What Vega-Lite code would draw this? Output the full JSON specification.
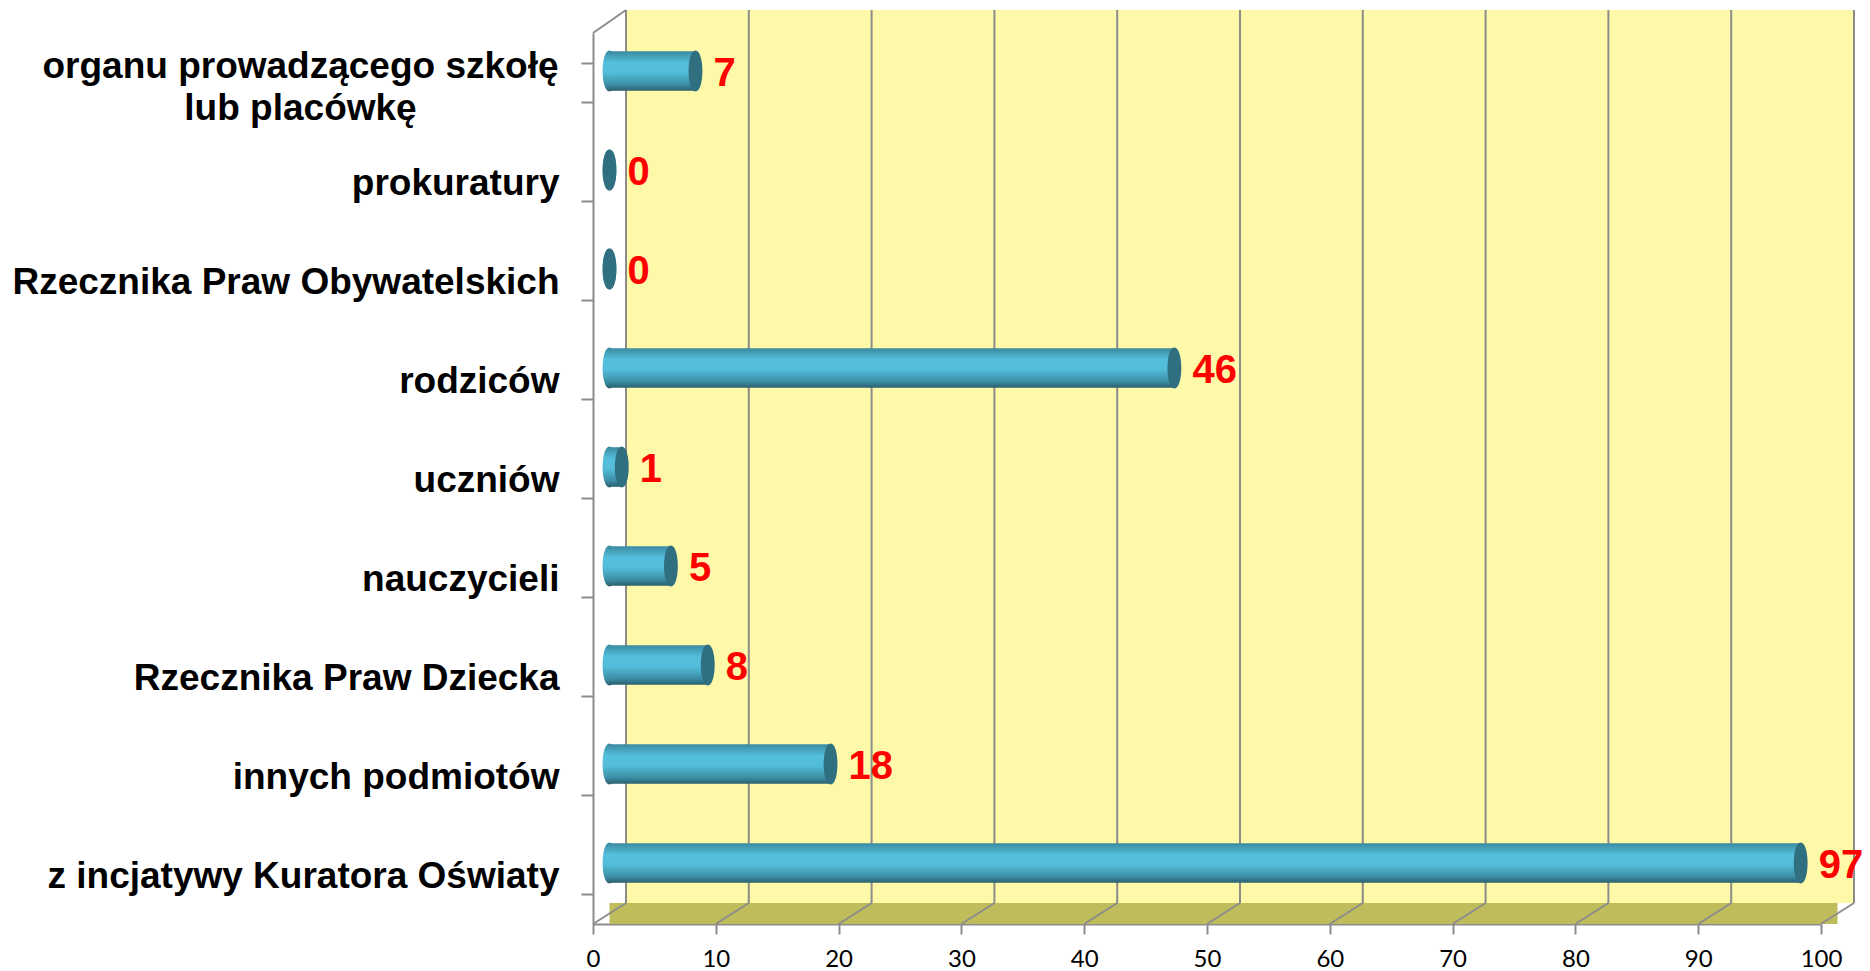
{
  "$schema": "https://vega.github.io/schema/vega-lite/v6.json",
  "width": 1228,
  "height": 891,
  "autosize": {"type": "none"},
  "padding": {"left": 593, "top": 33, "right": 49, "bottom": 47},
  "background": "white",
  "config": {"view": {"stroke": null}},
  "datasets": {
    "rows": [
      {"kategoria": "organu prowadzącego szkołę lub placówkę", "liczba": 7},
      {"kategoria": "prokuratury", "liczba": 0},
      {"kategoria": "Rzecznika Praw Obywatelskich", "liczba": 0},
      {"kategoria": "rodziców", "liczba": 46},
      {"kategoria": "uczniów", "liczba": 1},
      {"kategoria": "nauczycieli", "liczba": 5},
      {"kategoria": "Rzecznika Praw Dziecka", "liczba": 8},
      {"kategoria": "innych podmiotów", "liczba": 18},
      {"kategoria": "z incjatywy Kuratora Oświaty", "liczba": 97}
    ],
    "ticks": [
      {"t": 0}, {"t": 10}, {"t": 20}, {"t": 30}, {"t": 40}, {"t": 50},
      {"t": 60}, {"t": 70}, {"t": 80}, {"t": 90}, {"t": 100}
    ]
  },
  "data": {"name": "rows"},
  "layer": [
    {
      "data": {"values": [{}]},
      "mark": {"type": "rect", "fill": "#fdf9a8", "xOffset": 33, "x2Offset": 33, "yOffset": -23, "y2Offset": -21},
      "encoding": {
        "x": {"datum": 0, "type": "quantitative"},
        "x2": {"datum": 100},
        "y": {"value": 0},
        "y2": {"value": "height"}
      }
    },
    {
      "data": {"values": [{}]},
      "mark": {"type": "rect", "fill": "#bfbd5b", "xOffset": 16.5, "x2Offset": 16.5, "yOffset": 0, "y2Offset": -21},
      "encoding": {
        "x": {"datum": 0, "type": "quantitative"},
        "x2": {"datum": 100},
        "y": {"value": "height"},
        "y2": {"value": "height"}
      }
    },
    {
      "data": {"name": "ticks"},
      "mark": {"type": "rule", "stroke": "#8c8c8c", "strokeWidth": 2, "xOffset": 33, "yOffset": -23, "y2Offset": -21},
      "encoding": {
        "x": {"field": "t", "type": "quantitative"},
        "y": {"value": 0},
        "y2": {"value": "height"}
      }
    },
    {
      "data": {"name": "ticks"},
      "mark": {"type": "rule", "stroke": "#8c8c8c", "strokeWidth": 2, "x2Offset": 33, "y2Offset": -21},
      "encoding": {
        "x": {"field": "t", "type": "quantitative"},
        "x2": {"field": "t"},
        "y": {"value": "height"},
        "y2": {"value": "height"}
      }
    },
    {
      "data": {"values": [{}]},
      "mark": {"type": "rule", "stroke": "#8c8c8c", "strokeWidth": 2, "x2Offset": 33, "y2Offset": -23},
      "encoding": {
        "x": {"datum": 0, "type": "quantitative"},
        "x2": {"datum": 0},
        "y": {"value": 0},
        "y2": {"value": 0}
      }
    },
    {
      "mark": {
        "type": "point",
        "shape": "M0,-1 C0.45,-1 0.45,1 0,1 C-0.45,1 -0.45,-1 0,-1 Z",
        "size": 1681,
        "filled": true,
        "opacity": 1,
        "strokeWidth": 0,
        "fill": {"gradient": "linear", "x1": 0, "y1": 0, "x2": 0, "y2": 1, "stops": [
          {"offset": 0, "color": "#3a8aa0"}, {"offset": 0.3, "color": "#55c0dd"},
          {"offset": 0.55, "color": "#52bcd9"}, {"offset": 0.85, "color": "#3b8ca2"},
          {"offset": 1, "color": "#2a5f6e"}]},
        "xOffset": 16.5,
        "yOffset": -11.5
      },
      "encoding": {
        "x": {"datum": 0, "type": "quantitative"},
        "y": {"field": "kategoria", "type": "nominal", "sort": null}
      }
    },
    {
      "mark": {
        "type": "bar",
        "fill": {"gradient": "linear", "x1": 0, "y1": 0, "x2": 0, "y2": 1, "stops": [
          {"offset": 0, "color": "#3a8aa0"}, {"offset": 0.3, "color": "#55c0dd"},
          {"offset": 0.55, "color": "#52bcd9"}, {"offset": 0.85, "color": "#3b8ca2"},
          {"offset": 1, "color": "#2a5f6e"}]},
        "xOffset": 16.5,
        "x2Offset": 16.5,
        "yOffset": -11.5,
        "y2Offset": -11.5
      },
      "encoding": {
        "y": {
          "field": "kategoria",
          "type": "nominal",
          "sort": null,
          "scale": {"paddingInner": 0.6, "paddingOuter": 0.3},
          "axis": {
            "title": null,
            "domainColor": "#8c8c8c",
            "domainWidth": 2,
            "tickColor": "#8c8c8c",
            "tickWidth": 2,
            "tickSize": 12,
            "tickBand": "extent",
            "labelFont": "Liberation Sans",
            "labelFontSize": 37,
            "labelFontWeight": "bold",
            "labelColor": "black",
            "labelLimit": 0,
            "labelLineHeight": 42,
            "labelExpr": "datum.value == 'organu prowadzącego szkołę lub placówkę' ? ['organu prowadzącego szkołę', 'lub placówkę'] : datum.label",
            "labelAlign": {"condition": {"test": "datum.value == 'organu prowadzącego szkołę lub placówkę'", "value": "center"}, "value": "right"},
            "labelPadding": {"condition": {"test": "datum.value == 'organu prowadzącego szkołę lub placówkę'", "value": 281}, "value": 22},
            "labelOffset": {"condition": {"test": "datum.value == 'organu prowadzącego szkołę lub placówkę'", "value": -16}, "value": 2}
          }
        },
        "x": {
          "field": "liczba",
          "type": "quantitative",
          "scale": {"domain": [0, 100], "nice": false, "zero": true},
          "axis": {
            "title": null,
            "values": [0, 10, 20, 30, 40, 50, 60, 70, 80, 90, 100],
            "grid": false,
            "domainColor": "#8c8c8c",
            "domainWidth": 2,
            "tickColor": "#8c8c8c",
            "tickWidth": 2,
            "tickSize": 10,
            "labelFont": "Lato",
            "labelFontSize": 24,
            "labelColor": "black",
            "labelBaseline": "middle",
            "labelPadding": 25,
            "labelFlush": false,
            "labelOverlap": false
          }
        }
      }
    },
    {
      "mark": {
        "type": "point",
        "shape": "M0,-1 C0.45,-1 0.45,1 0,1 C-0.45,1 -0.45,-1 0,-1 Z",
        "size": 1681,
        "filled": true,
        "opacity": 1,
        "strokeWidth": 0,
        "fill": "#2f6f80",
        "xOffset": 16.5,
        "yOffset": -11.5
      },
      "encoding": {
        "x": {"field": "liczba", "type": "quantitative"},
        "y": {"field": "kategoria", "type": "nominal", "sort": null}
      }
    },
    {
      "mark": {
        "type": "text",
        "align": "left",
        "baseline": "middle",
        "font": "Liberation Sans",
        "fontSize": 40,
        "fontWeight": "bold",
        "fill": "#ff0000",
        "dx": 18,
        "xOffset": 16.5,
        "yOffset": -9
      },
      "encoding": {
        "x": {"field": "liczba", "type": "quantitative"},
        "y": {"field": "kategoria", "type": "nominal", "sort": null},
        "text": {"field": "liczba", "type": "quantitative"}
      }
    }
  ]
}
